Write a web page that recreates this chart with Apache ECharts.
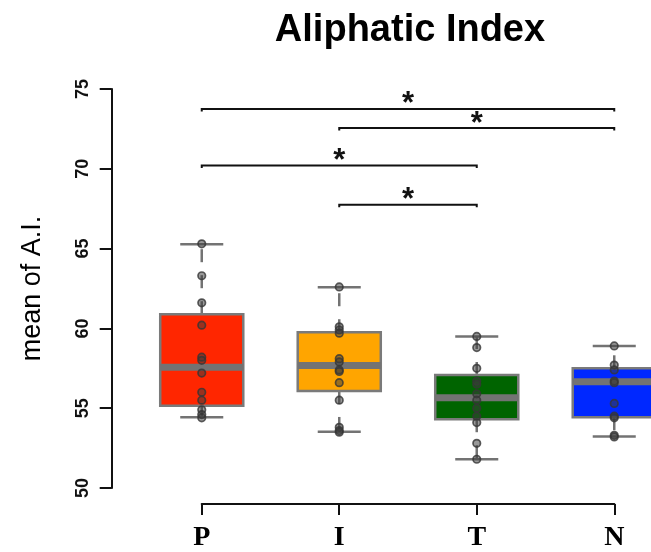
<!DOCTYPE html>
<html>
<head>
<meta charset="utf-8">
<script src="https://cdn.jsdelivr.net/npm/echarts@6/dist/echarts.min.js"></script>
<style>
  html, body { margin: 0; padding: 0; background: #fff; }
  #chart { width: 651px; height: 552px; }
</style>
</head>
<body>
<div id="chart"></div>
<script>
// Groups on the x axis
const categories = ['P', 'I', 'T', 'N'];

// Box statistics per group: [lower whisker, Q1, median, Q3, upper whisker]
const statsP = [54.43, 55.16, 57.57, 60.89, 65.28];
const statsI = [53.53, 56.08, 57.67, 59.76, 62.58];
const statsT = [51.80, 54.31, 55.66, 57.08, 59.49];
const statsN = [53.22, 54.43, 56.66, 57.50, 58.90];

// Individual observations per group
const pointsP = [65.3, 63.3, 61.6, 60.2, 58.2, 58.0, 57.2, 56.0, 55.5, 54.9, 54.6, 54.4];
const pointsI = [62.6, 60.1, 59.9, 59.7, 58.1, 57.9, 57.4, 57.3, 56.6, 55.5, 53.8, 53.6, 53.5];
const pointsT = [59.5, 58.8, 57.5, 56.7, 56.5, 55.9, 55.5, 55.0, 54.5, 54.1, 52.8, 51.8];
const pointsN = [58.9, 57.7, 57.4, 56.7, 56.6, 55.3, 54.5, 54.4, 53.3, 53.2];

// Significance brackets: group index pairs, bracket level, label
const sigPairs = [[0, 3], [1, 3], [0, 2], [1, 2]];
const sigLevels = [73.75, 72.55, 70.2, 67.75];
const sigLabels = ['*', '*', '*', '*'];

// Y axis range and ticks
const yMin = 50, yMax = 75, yStep = 5;

const boxFill = ['#FF2600', '#FFA500', '#006400', '#0028FF'];
const gray = '#737373';

const allStats = [statsP, statsI, statsT, statsN];
const allPoints = [pointsP, pointsI, pointsT, pointsN];

const boxData = allStats.map((s, i) => [i].concat(s));
const pointData = [];
allPoints.forEach((arr, i) => arr.forEach(v => pointData.push([i, v])));
const sigData = sigPairs.map((p, k) => [p[0], p[1], sigLevels[k], sigLabels[k]]);

const FONT = '"Liberation Sans", Arial, Helvetica, sans-serif';

// Plot area: groups sit on a numeric axis, one unit apart; the last box runs past the right edge
const plotLeft = 133, plotRight = 651, groupSpacing = 137.5;
const xMin = -0.5;
const xMax = xMin + (plotRight - plotLeft) / groupSpacing;

function renderBox(params, api) {
  const i = api.value(0);
  const mn = api.value(1), q1 = api.value(2), md = api.value(3), q3 = api.value(4), mx = api.value(5);
  const band = api.size([1, 0])[0];
  const bw = band * 0.604;
  const cw = band * 0.313;
  const x = api.coord([i, md])[0];
  const y = v => api.coord([i, v])[1];
  const wStyle = { stroke: gray, lineWidth: 2.5, lineDash: [13, 13] };
  return {
    type: 'group',
    children: [
      { type: 'line', shape: { x1: x, y1: y(q3), x2: x, y2: y(mx) }, style: wStyle },
      { type: 'line', shape: { x1: x, y1: y(q1), x2: x, y2: y(mn) }, style: wStyle },
      { type: 'rect', shape: { x: x - bw / 2, y: y(q3), width: bw, height: y(q1) - y(q3) },
        style: { fill: boxFill[i], stroke: '#7a7a7a', lineWidth: 2.5 } },
      { type: 'line', shape: { x1: x - bw / 2, y1: y(md), x2: x + bw / 2, y2: y(md) },
        style: { stroke: gray, lineWidth: 7 } },
      { type: 'line', shape: { x1: x - cw / 2, y1: y(mx), x2: x + cw / 2, y2: y(mx) },
        style: { stroke: gray, lineWidth: 2.5 } },
      { type: 'line', shape: { x1: x - cw / 2, y1: y(mn), x2: x + cw / 2, y2: y(mn) },
        style: { stroke: gray, lineWidth: 2.5 } }
    ]
  };
}

function renderSig(params, api) {
  const lvl = api.value(2);
  const p0 = api.coord([api.value(0), lvl]);
  const p1 = api.coord([api.value(1), lvl]);
  const y = p0[1];
  return {
    type: 'group',
    children: [
      { type: 'polyline',
        shape: { points: [[p0[0], y + 2.5], [p0[0], y], [p1[0], y], [p1[0], y + 2.5]] },
        style: { stroke: '#111', lineWidth: 2, fill: null } },
      { type: 'text',
        style: { text: sigData[params.dataIndex][3], x: (p0[0] + p1[0]) / 2, y: y - 4,
                 align: 'center', verticalAlign: 'middle',
                 font: 'bold 31px ' + FONT, fill: '#111' } }
    ]
  };
}

const chart = echarts.init(document.getElementById('chart'), null, { renderer: 'canvas' });

chart.setOption({
  animation: false,
  backgroundColor: '#fff',
  title: {
    text: 'Aliphatic Index',
    left: 405,
    top: 7,
    textAlign: 'center',
    textStyle: { fontFamily: FONT, fontWeight: 'bold', fontSize: 38, color: '#000' }
  },
  grid: [
    { left: plotLeft, right: 651 - plotRight, top: 89, bottom: 64 },
    { left: 201.7, right: 36.7, top: 89, bottom: 48 }
  ],
  xAxis: [
    {
      gridIndex: 0, type: 'value', min: xMin, max: xMax, show: false,
      splitLine: { show: false }
    },
    {
      gridIndex: 1, type: 'category', data: categories, boundaryGap: false,
      axisLine: { show: true, lineStyle: { color: '#111', width: 2 } },
      axisTick: { show: true, length: 11, lineStyle: { color: '#111', width: 2 } },
      axisLabel: { margin: 20, color: '#000', fontSize: 28, fontWeight: 'bold',
                   fontFamily: '"Liberation Serif", "Times New Roman", serif' },
      splitLine: { show: false }
    }
  ],
  yAxis: [
    {
      gridIndex: 0, type: 'value', min: yMin, max: yMax, interval: yStep, offset: 21.3,
      name: 'mean of A.I.', nameLocation: 'middle', nameGap: 66, nameRotate: 90,
      nameTextStyle: { fontFamily: FONT, fontSize: 27, color: '#000' },
      axisLine: { show: true, onZero: false, lineStyle: { color: '#111', width: 2 } },
      axisTick: { show: true, length: 12, lineStyle: { color: '#111', width: 2 } },
      axisLabel: { rotate: 90, margin: 20, color: '#111', fontSize: 18, fontWeight: 'bold', fontFamily: FONT },
      splitLine: { show: false }
    },
    { gridIndex: 1, type: 'value', show: false, min: yMin, max: yMax }
  ],
  series: [
    {
      type: 'custom', xAxisIndex: 0, yAxisIndex: 0,
      data: boxData, renderItem: renderBox, clip: false,
      encode: { x: 0, y: [1, 2, 3, 4, 5] }, z: 2
    },
    {
      type: 'scatter', xAxisIndex: 0, yAxisIndex: 0,
      data: pointData, symbol: 'circle', symbolSize: 7.5,
      itemStyle: { color: 'rgba(60,60,60,0.65)', borderColor: '#363636', borderWidth: 1.7 },
      z: 5
    },
    {
      type: 'custom', xAxisIndex: 0, yAxisIndex: 0,
      data: sigData, renderItem: renderSig, clip: false,
      encode: { x: [0, 1], y: 2 }, z: 6
    }
  ]
});
</script>
</body>
</html>
